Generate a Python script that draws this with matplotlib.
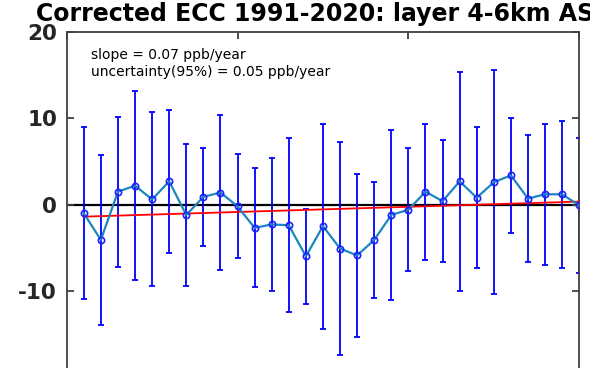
#!/usr/bin/env python
# corrected ECC ozone anomalies, layer 4-6km, with 95% errorbars and trend
import matplotlib
matplotlib.use('AGG')
import numpy as np
import matplotlib.pyplot as plt

plt.rcParams['axes.unicode_minus'] = False

years = np.arange(1991, 2021)
anomaly = [-1.0, -4.1, 1.5, 2.2, 0.6, 2.7, -1.2, 0.9, 1.4, -0.2,
           -2.7, -2.3, -2.4, -6.0, -2.5, -5.1, -5.9, -4.1, -1.2, -0.6,
           1.5, 0.4, 2.7, 0.8, 2.6, 3.4, 0.7, 1.2, 1.2, -0.1]
error = [10.0, 9.9, 8.7, 11.0, 10.1, 8.3, 8.2, 5.65, 8.95, 6.05,
         6.9, 7.75, 10.1, 5.5, 11.9, 12.4, 9.45, 6.7, 9.9, 7.15,
         7.9, 7.05, 12.75, 8.2, 13.0, 6.7, 7.4, 8.2, 8.55, 7.8]
trend_years = [1991, 2020]
trend_values = [-1.4, 0.35]
slope_text = 'slope = 0.07 ppb/year'
unc_text = 'uncertainty(95%) = 0.05 ppb/year'
title = 'Corrected ECC 1991-2020: layer 4-6km ASL'

fig = plt.figure(figsize=(5.9, 3.68), dpi=100)
ax = fig.add_axes([0.113, -0.024, 0.8688, 0.936])

ax.axhline(0, color='k', lw=1.6, zorder=1)
ax.errorbar(years, anomaly, yerr=error, fmt='none', ecolor='#0000ff',
            elinewidth=1.3, capsize=2.5, capthick=1.3, zorder=2)
ax.plot(trend_years, trend_values, color='#ff0000', lw=1.3, zorder=3)
ax.plot(years, anomaly, color='#1b87c0', lw=1.6, marker='o', ms=4.5,
        mec='#2020ff', mfc='none', mew=1.2, zorder=4)

ax.set_xlim(1990, 2020)
ax.set_ylim(-20, 20)
ax.set_yticks(np.arange(-20, 21, 10))
ax.set_xticks([1990, 2000, 2010, 2020])
ax.tick_params(direction='in', top=True, right=True, length=5, width=1.3,
               color='#404040', labelsize=15.5, labelcolor='#262626', pad=7,
               labelbottom=False)
for lab in ax.get_yticklabels():
    lab.set_fontweight('bold')
for s in ax.spines.values():
    s.set_color('#404040')
    s.set_linewidth(1.3)

ax.text(0.048, 0.935, slope_text, transform=ax.transAxes, fontsize=10,
        va='center', ha='left', color='k')
ax.text(0.048, 0.885, unc_text, transform=ax.transAxes, fontsize=10,
        va='center', ha='left', color='k')
ax.set_title(title, fontsize=17, fontweight='bold', pad=8)

fig.savefig('out.png', dpi=100)
